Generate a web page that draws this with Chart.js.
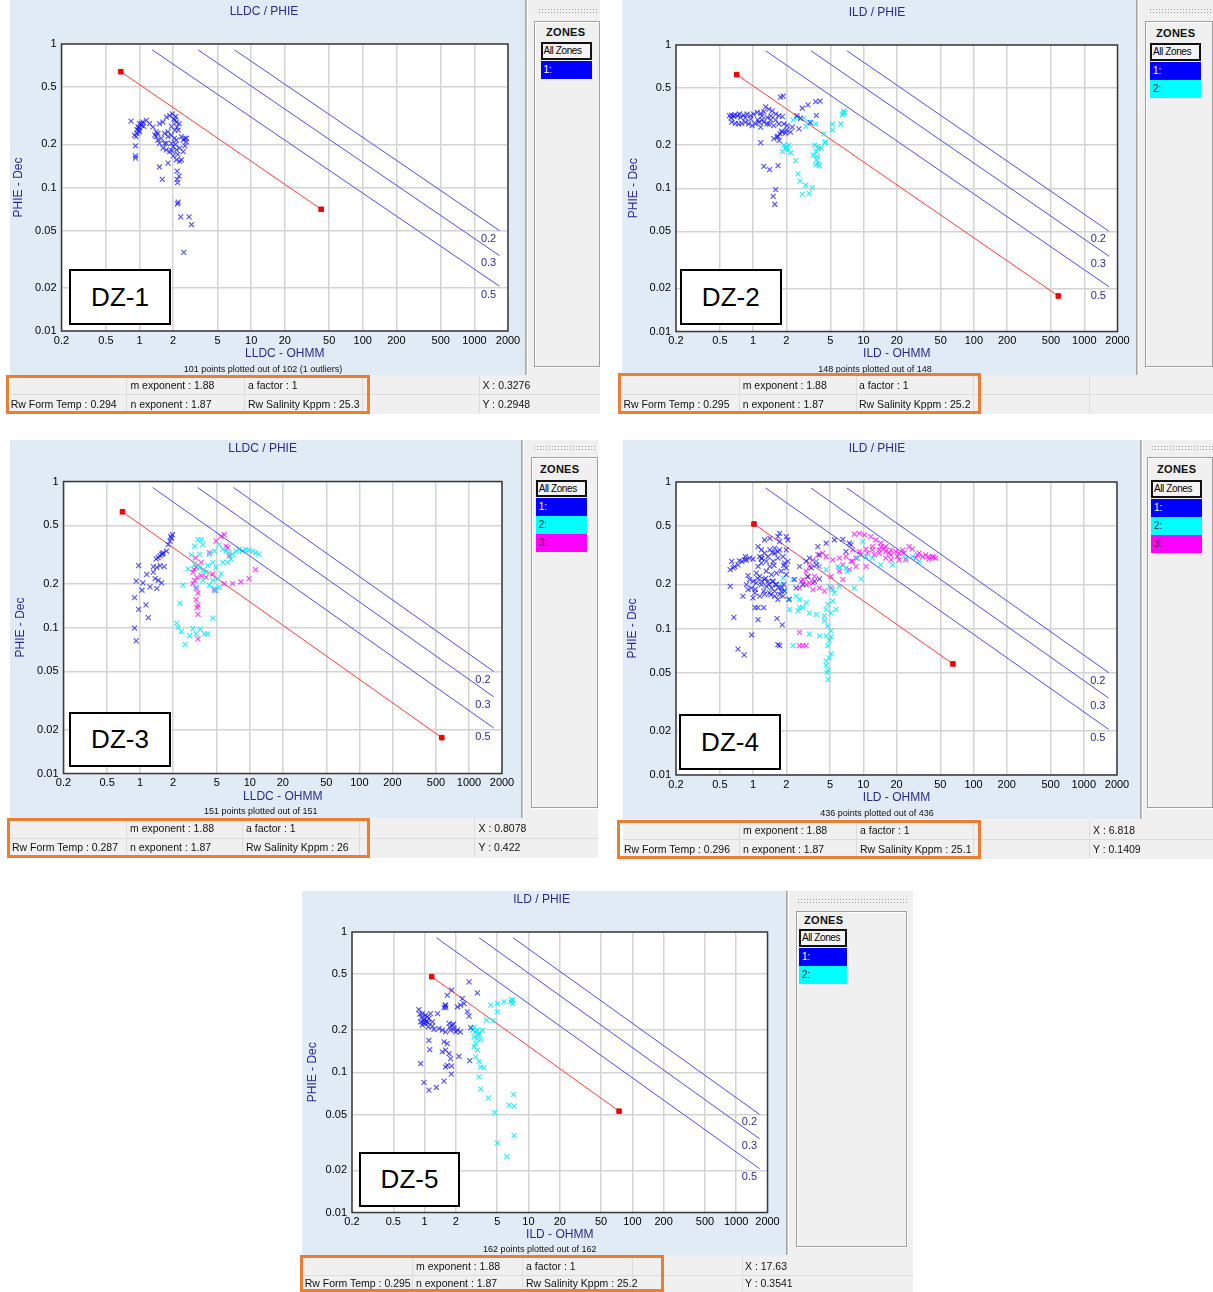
<!DOCTYPE html>
<html>
<head>
<meta charset="utf-8">
<script src="https://cdn.jsdelivr.net/npm/chart.js@4.4.0/dist/chart.umd.min.js"></script>
<style>
body { margin: 0; background: #fff; font-family: "Liberation Sans", Arial, sans-serif; }
#page { position: relative; width: 1213px; height: 1292px; overflow: hidden; }
.abs { position: absolute; box-sizing: border-box; }
.panel { background: #e1ebf5; }
.zonebg { background: #f0f0f0; }
.sep { background: #c4c4c4; border-left: 1px solid #a8a8a8; border-right: 1px solid #fff; }
.grip { background-image: radial-gradient(#9a9a9a 0.7px, transparent 0.9px); background-size: 3px 3px; }
.frame { border: 1px solid #a0a0a0; box-shadow: inset 1px 1px #fff, 1px 1px #fff; }
.txt { position: absolute; white-space: nowrap; line-height: 1; }
.ttl { color: #2b2b8f; font-size: 12px; }
.foot { color: #111; font-size: 9px; }
.zones { font-weight: bold; font-size: 11px; color: #111; letter-spacing: 0.3px; }
.allz { border: 2px solid #111; background: #f4f4f4; font-size: 10px; letter-spacing: -0.4px; padding-left: 1px; line-height: 14px; color: #000; }
.item { font-size: 10px; padding-left: 3px; line-height: 17px; }
.dz { background: #fff; border: 2px solid #000; font-size: 26px; display: flex; align-items: center; justify-content: center; color: #000; }
.info { background: #f0f0f0; }
.cellv { background: #dcdcdc; width: 1px; }
.cellh { background: #dcdcdc; height: 1px; }
.infotxt { font-size: 10.5px; color: #111; }
.orange { border: 3px solid #ed7d31; }
</style>
</head>
<body>
<div id="page"></div>
<script>
// axes
const xTicks = [0.2, 0.5, 1, 2, 5, 10, 20, 50, 100, 200, 500, 1000, 2000];
const yTicks = [0.01, 0.02, 0.05, 0.1, 0.2, 0.5, 1];
const xTitles = ["LLDC - OHMM", "ILD - OHMM", "LLDC - OHMM", "ILD - OHMM", "ILD - OHMM"];
const chartTitles = ["LLDC / PHIE", "ILD / PHIE", "LLDC / PHIE", "ILD / PHIE", "ILD / PHIE"];
const dzNames = ["DZ-1", "DZ-2", "DZ-3", "DZ-4", "DZ-5"];

// Sw lines (0.2, 0.3, 0.5)
const swNames = ["0.2", "0.3", "0.5"];
const swStartX = [7.1, 3.35, 1.3];
const swStartY = [0.91, 0.91, 0.91];
const swEndX = [1680, 1680, 1680];
const swEndY = [0.050, 0.0335, 0.0205];
const swLabelX = 1340;
const swLabelY = [0.044, 0.0296, 0.0178];

// Rw lines (red), one per chart
const rwLineDZ1 = [[0.68, 0.641], [42.4, 0.0705]];
const rwLineDZ2 = [[0.71, 0.621], [582, 0.0177]];
const rwLineDZ3 = [[0.69, 0.62], [565, 0.0176]];
const rwLineDZ4 = [[1.02, 0.517], [65, 0.0573]];
const rwLineDZ5 = [[1.17, 0.48], [74.5, 0.0528]];

// info bars
const mExponent = "1.88";
const nExponent = "1.87";
const aFactor = "1";
const rwFormTemp = ["0.294", "0.295", "0.287", "0.296", "0.295"];
const rwSalinity = ["25.3", "25.2", "26", "25.1", "25.2"];
const cursorX = ["0.3276", "", "0.8078", "6.818", "17.63"];
const cursorY = ["0.2948", "", "0.422", "0.1409", "0.3541"];
const pointsPlotted = [101, 148, 151, 436, 162];
const pointsTotal = [102, 148, 151, 436, 162];
const outliers = [1, 0, 0, 0, 0];

const zoneNames = ["1:", "2:", "3:"];

// points [resistivity, phie]
const dz1Zone1 = [
  [0.84,0.29],[0.92,0.195],[0.92,0.166],[0.92,0.16],[0.93,0.226],[0.95,0.238],[0.97,0.264],[1.0,0.279],[1.04,0.271],[1.07,0.286],
  [1.15,0.294],[1.23,0.279],[1.32,0.264],[1.37,0.232],[1.41,0.226],[1.46,0.214],[1.51,0.203],[1.51,0.279],[1.62,0.286],[1.74,0.309],
  [1.86,0.317],[1.97,0.326],[2.07,0.294],[2.14,0.286],[2.17,0.264],[2.26,0.279],[2.07,0.251],[1.93,0.232],[1.8,0.226],[1.68,0.203],
  [1.74,0.183],[1.86,0.178],[2.0,0.193],[2.14,0.183],[2.29,0.188],[2.46,0.214],[2.55,0.22],[2.63,0.22],[2.46,0.178],[2.37,0.156],
  [2.29,0.152],[2.14,0.156],[2.0,0.166],[1.8,0.148],[1.51,0.139],[1.6,0.114],[2.17,0.13],[2.26,0.12],[2.17,0.114],[2.19,0.108],
  [2.22,0.079],[2.19,0.077],[2.34,0.0624],[2.78,0.0624],[2.92,0.0552],[2.49,0.0353],
  [0.99,0.251],[0.99,0.261],[1.04,0.279],[1.09,0.267],[0.9,0.232],[1.41,0.244],[1.46,0.238],[1.57,0.22],[1.68,0.238],[1.8,0.244],
  [1.93,0.267],[2.03,0.301],[2.11,0.313],[2.22,0.251],[2.37,0.226],[2.14,0.214],[1.93,0.203],[1.62,0.188],[1.74,0.203],[2.63,0.208],
  [2.55,0.195],[0.95,0.253],[1.0,0.244],[2.05,0.22],[2.1,0.2],[1.95,0.18],[2.2,0.17]
];

const dz2Zone1 = [
  [0.61,0.321],[0.64,0.324],[0.67,0.316],[0.72,0.321],[0.77,0.312],[0.82,0.324],[0.88,0.329],[0.95,0.321],[1.01,0.329],[1.09,0.338],
  [1.17,0.333],[1.25,0.343],[1.30,0.37],[1.39,0.356],[1.49,0.347],[1.60,0.329],[1.71,0.321],[1.84,0.316],[1.34,0.312],[1.44,0.30],
  [1.21,0.30],[1.13,0.289],[1.05,0.281],[0.98,0.274],[0.91,0.281],[0.85,0.289],[0.79,0.284],[0.74,0.281],[0.69,0.284],[0.64,0.289],
  [0.95,0.304],[1.17,0.267],[1.34,0.281],[1.54,0.274],[1.71,0.281],[1.90,0.281],[2.04,0.274],[2.26,0.267],[2.60,0.26],[1.17,0.208],
  [1.25,0.142],[1.41,0.135],[1.68,0.144],[1.60,0.098],[1.52,0.0877],[1.57,0.0773],[1.54,0.222],[1.65,0.228],[1.75,0.24],[1.84,0.247],
  [1.97,0.243],[2.18,0.247],[1.77,0.433],[1.87,0.44],[2.79,0.362],[3.14,0.382],[3.69,0.402],[4.04,0.406],[3.74,0.322],[3.32,0.287],
  [2.49,0.321],[2.69,0.308],
  [0.63,0.31],[0.68,0.325],[0.75,0.33],[0.85,0.31],[1.1,0.30],[1.2,0.32],[1.45,0.32],[1.4,0.28],[1.25,0.29],[1.6,0.30],
  [1.68,0.23],[1.72,0.215],[1.8,0.25],[2.0,0.255]
];
const dz2Zone2 = [
  [6.58,0.333],[6.77,0.338],[6.22,0.281],[5.23,0.281],[5.23,0.256],[4.39,0.24],[4.54,0.211],[3.69,0.281],[3.21,0.289],[2.89,0.309],
  [2.51,0.312],[2.11,0.2],[1.97,0.19],[1.84,0.18],[2.04,0.185],[2.18,0.177],[2.43,0.156],[2.55,0.126],[2.66,0.112],[2.99,0.105],
  [3.44,0.101],[2.79,0.091],[3.21,0.092],[3.82,0.195],[3.95,0.19],[3.69,0.18],[3.82,0.166],[3.76,0.158],[3.87,0.15],[3.95,0.144],
  [3.69,0.146],[4.15,0.19],[4.45,0.208],
  [2.3,0.3],[3.0,0.27],[3.5,0.17],[3.6,0.2],[6.6,0.345],[6.4,0.325],[2.0,0.195],[1.9,0.2]
];

const dz3Zone1 = [
  [1.97,0.432],[1.93,0.41],[1.87,0.39],[1.80,0.37],[1.74,0.334],[1.57,0.317],[1.52,0.309],[1.46,0.301],[1.66,0.261],[1.52,0.265],
  [1.42,0.258],[1.32,0.261],[0.97,0.265],[1.15,0.231],[1.37,0.216],[1.57,0.202],[0.92,0.208],[1.06,0.202],[1.23,0.19],[1.42,0.185],
  [1.04,0.18],[0.89,0.16],[1.13,0.143],[0.97,0.133],[1.19,0.117],[0.89,0.099],[0.92,0.081],[1.32,0.239],[1.46,0.21],[1.6,0.32],
  [1.62,0.325],[1.4,0.295],[1.9,0.42]
];
const dz3Zone2 = [
  [3.37,0.4],[3.61,0.4],[3.14,0.361],[3.74,0.37],[2.93,0.314],[3.49,0.317],[4.29,0.317],[2.73,0.252],[3.14,0.272],[3.49,0.258],
  [3.74,0.245],[4.0,0.239],[4.14,0.265],[4.6,0.279],[4.93,0.258],[4.76,0.334],[5.28,0.37],[5.66,0.343],[6.07,0.334],[6.51,0.326],
  [6.97,0.317],[7.47,0.334],[8.01,0.343],[8.58,0.334],[9.2,0.343],[9.86,0.338],[10.6,0.332],[11.3,0.326],[12.1,0.317],[6.28,0.279],
  [6.74,0.294],[5.66,0.279],[5.47,0.233],[5.1,0.216],[4.6,0.21],[4.29,0.195],[4.76,0.185],[5.28,0.19],[4.93,0.179],[2.46,0.195],
  [2.3,0.147],[4.6,0.116],[2.15,0.107],[2.22,0.1],[2.38,0.094],[3.03,0.0985],[3.54,0.0975],[2.83,0.0879],[3.25,0.0904],[3.87,0.0904],
  [4.14,0.0904],[2.57,0.0767],[3.25,0.19],[3.74,0.21]
];
const dz3Zone3 = [
  [5.86,0.432],[5.47,0.421],[4.93,0.39],[6.28,0.352],[4.29,0.326],[3.61,0.279],[3.25,0.258],[3.03,0.239],[3.14,0.21],[3.03,0.2],
  [3.25,0.185],[3.37,0.172],[3.25,0.155],[3.37,0.143],[3.3,0.137],[3.37,0.123],[3.61,0.227],[4.0,0.221],[4.6,0.233],[4.76,0.18],
  [5.86,0.2],[6.97,0.2],[8.29,0.205],[9.86,0.216],[11.3,0.249],[3.37,0.0836],[6.51,0.309],[6.07,0.361],
  [3.2,0.3],[3.1,0.25],[3.3,0.22]
];

const dz4Zone1 = [
  [0.64,0.287],[0.62,0.252],[0.68,0.265],[0.79,0.287],[0.87,0.294],[1.0,0.298],[1.15,0.31],[1.27,0.327],[1.42,0.344],[1.57,0.353],
  [1.74,0.344],[2.0,0.344],[1.87,0.31],[1.68,0.302],[1.52,0.287],[1.42,0.265],[1.32,0.246],[1.47,0.233],[1.63,0.239],[1.8,0.246],
  [2.0,0.259],[2.07,0.287],[1.27,0.402],[1.42,0.413],[1.68,0.424],[2.0,0.424],[1.74,0.392],[1.32,0.287],[1.19,0.28],[1.11,0.265],
  [1.07,0.239],[0.93,0.216],[0.87,0.1995],[0.97,0.189],[1.07,0.205],[1.19,0.1995],[1.32,0.194],[1.47,0.189],[1.57,0.18],[1.74,0.171],
  [1.68,0.158],[1.87,0.166],[1.15,0.166],[1.0,0.162],[0.81,0.166],[0.62,0.194],[1.04,0.139],[1.11,0.139],[1.25,0.139],[0.67,0.119],
  [1.11,0.115],[1.65,0.117],[1.84,0.106],[0.97,0.0906],[0.73,0.0724],[0.83,0.066],[1.68,0.0775],[1.74,0.0764],[2.11,0.158],[2.38,0.216],
  [3.03,0.287],[3.37,0.259],[3.74,0.272],[3.87,0.362],[4.6,0.382],[5.47,0.402],[6.51,0.406],[7.47,0.382],[7.74,0.372],[6.97,0.335],
  [2.83,0.1995],[3.14,0.225],[3.61,0.21],[4.0,0.218],[3.25,0.302],[4.0,0.318],[2.64,0.265],[2.46,0.189],
  [1.0,0.21],[1.1,0.22],[1.2,0.21],[1.3,0.22],[1.4,0.2],[1.5,0.21],[1.6,0.2],[1.7,0.19],[1.8,0.18],[1.9,0.2],
  [1.25,0.18],[1.45,0.17],[0.9,0.23],[1.05,0.185],[0.75,0.29],[0.85,0.31],[1.2,0.3],[1.5,0.33],[1.55,0.27],[1.9,0.27],
  [0.66,0.259],[0.73,0.272],[0.84,0.294],[0.93,0.302],[1.19,0.302],[1.37,0.31],[1.57,0.327],[1.68,0.335],[1.15,0.227],[1.27,0.216],
  [1.37,0.21],[1.52,0.21],[1.63,0.1995],[1.8,0.189],[1.93,0.18],[0.9,0.184],[1.04,0.175],[1.27,0.171],[1.41,0.175],[1.57,0.166],
  [2.0,0.233],[1.93,0.28],[1.11,0.362],[1.19,0.344],[2.07,0.402],[1.74,0.446]
];
const dz4Zone2 = [
  [1.8,0.1995],[1.93,0.184],[2.15,0.158],[2.15,0.135],[2.55,0.132],[2.83,0.139],[3.25,0.128],[3.74,0.125],[3.03,0.15],[2.64,0.158],
  [2.3,0.216],[1.87,0.221],[2.46,0.166],[4.6,0.135],[4.76,0.146],[5.28,0.154],[5.66,0.135],[5.47,0.175],[5.28,0.184],[4.93,0.194],
  [6.07,0.194],[8.29,0.189],[9.53,0.218],[4.44,0.113],[4.76,0.104],[5.1,0.0964],[4.6,0.089],[4.93,0.0826],[4.76,0.0764],[5.1,0.067],
  [4.6,0.0559],[3.25,0.0917],[4.0,0.089],[2.3,0.0764],[9.86,0.392],[14.4,0.272],[18.4,0.272],[32.1,0.287],[6.97,0.259],[6.07,0.259],
  [4.6,0.252],[4.0,0.265],[3.74,0.287],[8.89,0.302],[10.6,0.31],[12.1,0.302],[24.3,0.302],[27.9,0.31],
  [4.8,0.045],[4.7,0.05],[4.8,0.052],[4.6,0.06],[4.9,0.063],
  [5.86,0.265],[7.2,0.246],[5.1,0.128],[4.44,0.122],[2.64,0.139],[5.1,0.0877]
];
const dz4Zone3 = [
  [8.29,0.441],[9.2,0.446],[10.2,0.435],[11.7,0.424],[13.0,0.402],[14.4,0.382],[16.0,0.362],[17.8,0.344],[19.7,0.335],[22.7,0.344],
  [26.0,0.362],[27.9,0.348],[32.1,0.327],[36.8,0.318],[42.3,0.31],[45.4,0.302],[39.5,0.298],[29.9,0.302],[24.3,0.294],[21.2,0.294],
  [17.8,0.294],[16.0,0.302],[13.95,0.327],[12.1,0.344],[10.6,0.348],[9.2,0.335],[8.01,0.344],[6.97,0.31],[6.07,0.302],[5.28,0.294],
  [4.6,0.31],[4.29,0.327],[3.87,0.318],[3.49,0.294],[3.25,0.265],[3.03,0.246],[2.83,0.216],[3.03,0.1995],[3.49,0.205],[4.0,0.189],
  [4.44,0.18],[5.1,0.189],[6.51,0.216],[7.47,0.252],[8.58,0.265],[10.6,0.265],[8.01,0.287],[6.07,0.246],[2.64,0.189],[2.73,0.21],
  [2.64,0.094],[2.64,0.0764],[2.83,0.0764],[3.03,0.0764],[13.95,0.344],[15.5,0.353],[12.6,0.318],[10.9,0.327],[21.2,0.327],[17.8,0.318],
  [8.58,0.302],[4.0,0.265],[3.61,0.227],[3.14,0.227],
  [12.1,0.362],[14.4,0.362],[17.2,0.327],[20.4,0.31],[23.5,0.327],[34.3,0.31],[39.5,0.31],[43.6,0.306],[31.0,0.318],[16.0,0.335],
  [9.5,0.318],[7.74,0.287],[6.51,0.272],[5.1,0.227],[3.74,0.287],[3.25,0.205],[3.49,0.184]
];

const dz5Zone1 = [
  [2.68,0.441],[3.22,0.368],[1.82,0.385],[1.65,0.354],[2.31,0.335],[1.59,0.301],[1.54,0.289],[2.07,0.293],[2.22,0.301],[2.4,0.309],
  [2.58,0.27],[2.68,0.251],[0.88,0.28],[0.95,0.262],[1.02,0.255],[1.14,0.262],[1.10,0.242],[0.985,0.235],[0.915,0.229],[0.95,0.217],
  [1.02,0.223],[1.085,0.211],[1.19,0.229],[1.33,0.262],[1.375,0.205],[1.48,0.1995],[1.72,0.223],[1.85,0.217],[1.92,0.205],[2.07,0.1995],
  [1.78,0.1995],[1.99,0.194],[2.22,0.194],[1.59,0.194],[1.10,0.169],[1.12,0.145],[1.54,0.165],[1.65,0.16],[1.59,0.144],[1.48,0.14],
  [1.72,0.136],[1.78,0.125],[1.65,0.112],[1.82,0.1105],[1.59,0.109],[1.81,0.097],[2.14,0.13],[2.72,0.121],[2.78,0.208],[0.915,0.115],
  [0.985,0.0845],[1.10,0.0745],[1.30,0.0779],[1.54,0.0864],[1.23,0.202],[1.19,0.213],[1.06,0.248],
  [0.93,0.245],[0.97,0.225],[1.0,0.24],[1.05,0.23],[1.08,0.225],[0.9,0.26],[1.6,0.29],[1.58,0.3],[1.75,0.21],[1.9,0.22]
];
const dz5Zone2 = [
  [4.33,0.301],[5.02,0.309],[5.82,0.318],[6.76,0.318],[7.01,0.309],[5.02,0.27],[3.94,0.235],[4.56,0.233],[2.88,0.1995],[3.1,0.194],
  [3.34,0.189],[3.6,0.1995],[2.99,0.179],[3.22,0.174],[3.47,0.171],[3.1,0.16],[2.99,0.152],[3.22,0.144],[3.1,0.129],[3.34,0.119],
  [3.47,0.109],[3.74,0.108],[3.34,0.0928],[3.47,0.0757],[4.11,0.0657],[4.73,0.0517],[7.17,0.0694],[6.51,0.0583],[7.27,0.0573],[7.27,0.0354],
  [5.02,0.0314],[6.18,0.025],
  [6.9,0.33],[7.1,0.325],[3.0,0.21],[3.2,0.2],[3.3,0.185]
];

const chartZones = [
  [dz1Zone1],
  [dz2Zone1, dz2Zone2],
  [dz3Zone1, dz3Zone2, dz3Zone3],
  [dz4Zone1, dz4Zone2, dz4Zone3],
  [dz5Zone1, dz5Zone2]
];
const chartRwLines = [rwLineDZ1, rwLineDZ2, rwLineDZ3, rwLineDZ4, rwLineDZ5];

// page geometry for each of the five plots
const layouts = [
  { panel: [10, 0, 515, 375], plot: [61.5, 44, 508, 331], title: [264, 11], xTitleY: 354, yTitleX: 19, foot: [263, 368.5],
    dz: [69, 269, 102, 56],
    zone: { x: 525, right: 600, top: 0, bottom: 375, grip: [538, 8, 60], frame: [534, 21, 600, 367], label: [546, 32], all: [540.5, 41.5, 51, 18.5], itemH: 18 },
    info: { top: 375, bottom: 414, left: 10, right: 600, orange: [6, 375, 370, 414], rowY: [385, 403.5], textX: [10.7, 130.4, 248, 482.4], lines: [125.8, 243.5, 361.6, 478.5] } },
  { panel: [621.5, 0, 514.5, 375], plot: [675.5, 45, 1117.5, 331.5], title: [877, 11.7], xTitleY: 354, yTitleX: 633, foot: [875, 368.5],
    dz: [680, 269, 101.5, 56],
    zone: { x: 1136, right: 1213, top: 0, bottom: 375, grip: [1149, 8, 64], frame: [1145, 21, 1213, 367], label: [1156, 33], all: [1150, 42.5, 51, 18], itemH: 18 },
    info: { top: 375, bottom: 414, left: 621.5, right: 1213, orange: [617.7, 373, 981, 414], rowY: [385, 403.5], textX: [623.5, 742.7, 859, 1093], lines: [738.8, 856, 972.7, 1088.8] } },
  { panel: [10, 440, 511, 378], plot: [63.5, 481.5, 502, 773.5], title: [262.6, 447.7], xTitleY: 796.7, yTitleX: 21, foot: [260.7, 811],
    dz: [69, 711.7, 102, 55.6],
    zone: { x: 521, right: 598, top: 440, bottom: 818, grip: [533, 445, 64], frame: [531, 456.7, 598, 808], label: [540, 469], all: [535.7, 480, 51, 17], itemH: 18 },
    info: { top: 818, bottom: 858, left: 10, right: 598, orange: [6.9, 817.7, 370, 858], rowY: [828.3, 846.7], textX: [12, 130, 246, 478.5], lines: [125.8, 241.6, 358.5, 473.5] } },
  { panel: [623, 440, 517, 379], plot: [676, 482, 1117, 775], title: [877, 447.5], xTitleY: 798, yTitleX: 633, foot: [877, 812.5],
    dz: [679, 714, 102, 56],
    zone: { x: 1140, right: 1213, top: 440, bottom: 819, grip: [1151, 445, 62], frame: [1147, 457, 1213, 808], label: [1157, 469], all: [1151, 480, 51, 17.5], itemH: 18 },
    info: { top: 819, bottom: 859, left: 623, right: 1213, orange: [617, 820, 981, 859], rowY: [830, 848.5], textX: [624, 743, 860, 1093], lines: [739, 856, 973, 1089] } },
  { panel: [302, 891, 484, 364], plot: [352, 932, 767.5, 1212.5], title: [541.6, 899.3], xTitleY: 1235, yTitleX: 312.6, foot: [539.7, 1249],
    dz: [359, 1151.7, 101, 55.6],
    zone: { x: 786, right: 913, top: 891, bottom: 1255, grip: [797, 898, 110], frame: [796, 910.7, 907, 1246.7], label: [804, 920], all: [799, 929, 48, 18], itemH: 18 },
    info: { top: 1255, bottom: 1292, left: 302, right: 913, orange: [300, 1255, 663.5, 1292], rowY: [1265.7, 1283.3], textX: [304.7, 416, 526, 745], lines: [412, 522, 632, 742] } }
];

const zoneColors = ["#0000ff", "#00ffff", "#ff00ff"];
const zoneTextColors = ["#fff", "#333", "#333"];
const pointColors = ["rgba(20,20,255,0.75)", "rgba(0,235,255,0.85)", "rgba(255,0,255,0.75)"];
const FONT = '"Liberation Sans", Arial, sans-serif';
const NAVY = "#2b2b8f";

const page = document.getElementById("page");

function box(cls, x, y, w, h, css) {
  const d = document.createElement("div");
  d.className = "abs " + (cls || "");
  d.style.left = x + "px";
  d.style.top = y + "px";
  d.style.width = w + "px";
  d.style.height = h + "px";
  if (css) Object.assign(d.style, css);
  page.appendChild(d);
  return d;
}

// text placed by its centre (default) or by its left edge ('left')
function label(cls, str, x, y, align) {
  const d = document.createElement("div");
  d.className = "txt " + cls;
  d.textContent = str;
  d.style.left = x + "px";
  d.style.top = y + "px";
  d.style.transform = align === "left" ? "translate(0,-50%)" : "translate(-50%,-50%)";
  page.appendChild(d);
  return d;
}

const framePlugin = {
  id: "frame",
  beforeDraw(chart) {
    // white plot area
    const { ctx, chartArea: a } = chart;
    ctx.save();
    ctx.fillStyle = "#fff";
    ctx.fillRect(a.left, a.top, a.right - a.left, a.bottom - a.top);
    ctx.restore();
  },
  afterDatasetsDraw(chart) {
    const { ctx, chartArea: a, scales } = chart;
    // Sw labels at right end of the blue lines
    ctx.save();
    ctx.font = "11px " + FONT;
    ctx.fillStyle = NAVY;
    ctx.textAlign = "center";
    ctx.textBaseline = "middle";
    swNames.forEach((s, k) => {
      ctx.fillText(s, scales.x.getPixelForValue(swLabelX), scales.y.getPixelForValue(swLabelY[k]));
    });
    ctx.strokeStyle = "#3a3a3a";
    ctx.lineWidth = 1.5;
    ctx.strokeRect(a.left, a.top, a.right - a.left, a.bottom - a.top);
    ctx.restore();
  }
};

function makePanel(i) {
  const L = layouts[i];
  const [px, py, pw, ph] = L.panel;
  const [l, t, r, b] = L.plot;
  const Z = L.zone;

  // backgrounds and zone list
  box("panel", px, py, pw, ph);
  box("zonebg", Z.x, Z.top, Z.right - Z.x, Z.bottom - Z.top);
  box("sep", Z.x, Z.top, 3, Z.bottom - Z.top);
  box("grip", Z.grip[0], Z.grip[1], Z.grip[2], 5);
  box("frame", Z.frame[0], Z.frame[1], Z.frame[2] - Z.frame[0], Z.frame[3] - Z.frame[1]);
  label("zones", "ZONES", Z.label[0], Z.label[1], "left");
  const all = box("allz", Z.all[0], Z.all[1], Z.all[2], Z.all[3]);
  all.textContent = "All Zones";
  chartZones[i].forEach((pts, k) => {
    const it = box("item", Z.all[0], Z.all[1] + Z.all[3] + 1 + k * Z.itemH, Z.all[2], Z.itemH,
      { background: zoneColors[k], color: zoneTextColors[k] });
    it.textContent = zoneNames[k];
  });

  // chart
  const cv = document.createElement("canvas");
  cv.width = pw;
  cv.height = ph;
  cv.style.cssText = "position:absolute;left:" + px + "px;top:" + py + "px;width:" + pw + "px;height:" + ph + "px;";
  page.appendChild(cv);

  const yW = l - px;
  const xH = py + ph - b;

  const datasets = [];
  swNames.forEach((s, k) => {
    datasets.push({
      label: "Sw " + s,
      data: [{ x: swStartX[k], y: swStartY[k] }, { x: swEndX[k], y: swEndY[k] }],
      showLine: true, borderColor: "#4d4de8", borderWidth: 1, pointRadius: 0, fill: false
    });
  });
  chartZones[i].forEach((pts, k) => {
    datasets.push({
      label: "Zone " + (k + 1),
      data: pts.map(p => ({ x: p[0], y: p[1] })),
      showLine: false, pointStyle: "crossRot", pointRadius: 3.5, borderWidth: 1.1,
      borderColor: pointColors[k], backgroundColor: pointColors[k]
    });
  });
  datasets.push({
    label: "Rw",
    data: chartRwLines[i].map(p => ({ x: p[0], y: p[1] })),
    showLine: true, borderColor: "#ff3b3b", borderWidth: 1,
    pointStyle: "rect", pointRadius: 3.2, pointBackgroundColor: "#ff0000", pointBorderColor: "#e00000", pointBorderWidth: 1
  });

  new Chart(cv, {
    type: "scatter",
    data: { datasets: datasets },
    options: {
      responsive: false,
      animation: false,
      devicePixelRatio: 1,
      layout: { padding: { left: 0, top: t - py, right: px + pw - r, bottom: 0 } },
      plugins: { legend: { display: false }, tooltip: { enabled: false } },
      scales: {
        x: {
          type: "logarithmic", min: 0.2, max: 2000,
          afterBuildTicks: a => { a.ticks = xTicks.map(v => ({ value: v })); },
          afterFit: a => { a.height = xH; },
          ticks: { autoSkip: false, maxRotation: 0, minRotation: 0, padding: 3, color: "#000",
                   font: { size: 11, family: FONT }, callback: v => String(v) },
          grid: { color: "#d3d3d3", lineWidth: 1.5, drawTicks: false },
          border: { display: false },
          title: { display: true, text: xTitles[i], color: NAVY, font: { size: 12, family: FONT },
                   padding: { top: 0, bottom: (py + ph) - L.xTitleY - 7.2 } }
        },
        y: {
          type: "logarithmic", min: 0.01, max: 1,
          afterBuildTicks: a => { a.ticks = yTicks.map(v => ({ value: v })); },
          afterFit: a => { a.width = yW; },
          ticks: { autoSkip: false, padding: 5, color: "#000",
                   font: { size: 11, family: FONT }, callback: v => String(v) },
          grid: { color: "#d3d3d3", lineWidth: 1.5, drawTicks: false },
          border: { display: false },
          title: { display: true, text: "PHIE - Dec", color: NAVY, font: { size: 12, family: FONT },
                   padding: { top: L.yTitleX - px - 7.2, bottom: 0 } }
        }
      }
    },
    plugins: [framePlugin]
  });

  // DZ label box
  const dz = box("dz", L.dz[0], L.dz[1], L.dz[2], L.dz[3]);
  dz.textContent = dzNames[i];

  // titles
  label("ttl", chartTitles[i], L.title[0], L.title[1]);
  const foot = pointsPlotted[i] + " points plotted out of " + pointsTotal[i] +
    (outliers[i] ? " (" + outliers[i] + " outliers)" : "");
  label("foot", foot, L.foot[0], L.foot[1]);

  // info bar
  const I = L.info;
  box("info", I.left, I.top, I.right - I.left, I.bottom - I.top);
  box("cellh", I.left, (I.rowY[0] + I.rowY[1]) / 2, I.right - I.left, 1);
  I.lines.forEach(x => box("cellv", x, I.top + 1, 1, I.bottom - I.top - 2));
  const row1 = ["", "m exponent : " + mExponent, "a factor : " + aFactor, cursorX[i] ? "X : " + cursorX[i] : ""];
  const row2 = ["Rw Form Temp : " + rwFormTemp[i], "n exponent : " + nExponent, "Rw Salinity Kppm : " + rwSalinity[i], cursorY[i] ? "Y : " + cursorY[i] : ""];
  row1.forEach((s, k) => { if (s) label("infotxt", s, I.textX[k], I.rowY[0], "left"); });
  row2.forEach((s, k) => { if (s) label("infotxt", s, I.textX[k], I.rowY[1], "left"); });
  const o = I.orange;
  box("orange", o[0], o[1], o[2] - o[0], o[3] - o[1]);
}

for (let i = 0; i < 5; i++) makePanel(i);
</script>
</body>
</html>
